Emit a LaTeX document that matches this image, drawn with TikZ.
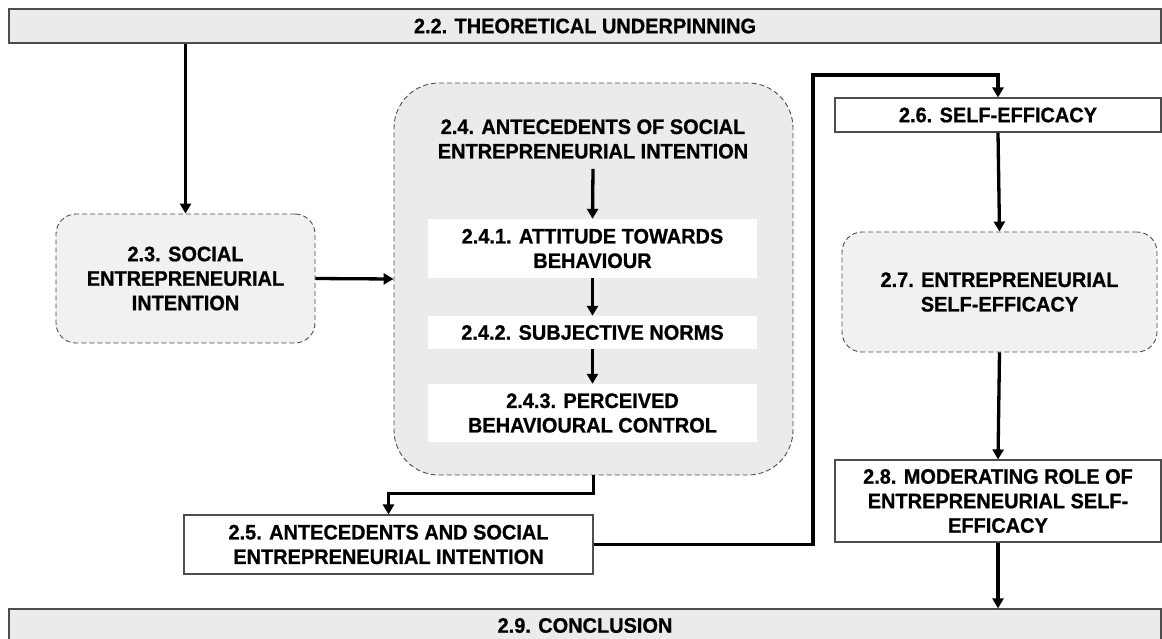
\documentclass[tikz,border=0pt]{standalone}
\usepackage{fontspec}
\setmainfont{Liberation Sans}
\newfontfamily\labelfont{Liberation Sans}[FakeStretch=0.95, FakeBold=0.8]
\usetikzlibrary{arrows.meta}
\definecolor{barfill}{HTML}{EBEBEB}
\definecolor{softfill}{HTML}{F1F1F1}
\definecolor{edge}{HTML}{4D4D4D}
\begin{document}
\begin{tikzpicture}[x=1pt,y=-1pt,
  every node/.style={font=\labelfont\fontsize{21}{24.5}\selectfont\bfseries, align=center, inner sep=0pt},
  bar/.style={draw=edge, line width=1.3pt, fill=barfill},
  plainbox/.style={draw=edge, line width=1.1pt, fill=white},
  inner/.style={fill=white, minimum width=329pt},
  dashbox/.style={draw=edge, line width=0.9pt, dash pattern=on 5pt off 3pt, fill=softfill, rounded corners=20pt},
  arr/.style={line width=3.3pt, -{Triangle[width=11pt,length=10pt]}}
]
\useasboundingbox (0,0) rectangle (1162,638);
\begin{scope}
\clip (0,0) rectangle (1162,638);

% top and bottom bars
\node[bar, minimum width=1152pt, minimum height=34pt] (top) at (585,26) {2.2. THEORETICAL UNDERPINNING};
\node[bar, minimum width=1152pt, minimum height=33pt] (bot) at (585,625.5) {2.9. CONCLUSION};

% left column
\node[dashbox, minimum width=259pt, minimum height=129pt] (s23) at (185.5,278.5)
  {2.3. SOCIAL\\ENTREPRENEURIAL\\INTENTION};

% antecedents group
\node[dashbox, rounded corners=45pt, fill=barfill, minimum width=399pt, minimum height=392pt] (s24) at (593.5,279) {};
\node (t24) at (593,139) {2.4. ANTECEDENTS OF SOCIAL\\ENTREPRENEURIAL INTENTION};
\node[inner, minimum height=59pt] (s241) at (592.5,248.5) {2.4.1. ATTITUDE TOWARDS\\BEHAVIOUR};
\node[inner, minimum height=33pt] (s242) at (592.5,332.5) {2.4.2. SUBJECTIVE NORMS};
\node[inner, minimum height=58pt] (s243) at (592.5,413) {2.4.3. PERCEIVED\\BEHAVIOURAL CONTROL};

\node[plainbox, minimum width=409pt, minimum height=59pt] (s25) at (388.5,544.5)
  {2.5. ANTECEDENTS AND SOCIAL\\ENTREPRENEURIAL INTENTION};

% right column
\node[plainbox, minimum width=326pt, minimum height=34pt] (s26) at (998,115) {2.6. SELF-EFFICACY};
\node[dashbox, minimum width=315pt, minimum height=120pt] (s27) at (999.5,292)
  {2.7. ENTREPRENEURIAL\\SELF-EFFICACY};
\node[plainbox, minimum width=326pt, minimum height=82pt] (s28) at (998,501)
  {2.8. MODERATING ROLE OF\\ENTREPRENEURIAL SELF-\\EFFICACY};

\coordinate (turn) at (813,75);

% connectors
\draw[arr] (s23.north |- top.south) -- (s23.north);
\draw[arr] (s23.east) -- (s24.west);
\draw[arr] (t24.south) ++(0,10) -- (s241.north);
\draw[arr] (s241.south) -- (s242.north);
\draw[arr] (s242.south) -- (s243.north);
\draw[arr] (s24.south) -- ++(0,18) -| (s25.north);
\draw[arr] (s25.east) -| (turn) -| (s26.north);
\draw[arr] (s26.south) -- (s27.north);
\draw[arr] (s27.south) -- (s28.north);
\draw[arr] (s28.south) -- (s28.south |- bot.north);
\end{scope}
\end{tikzpicture}
\end{document}
